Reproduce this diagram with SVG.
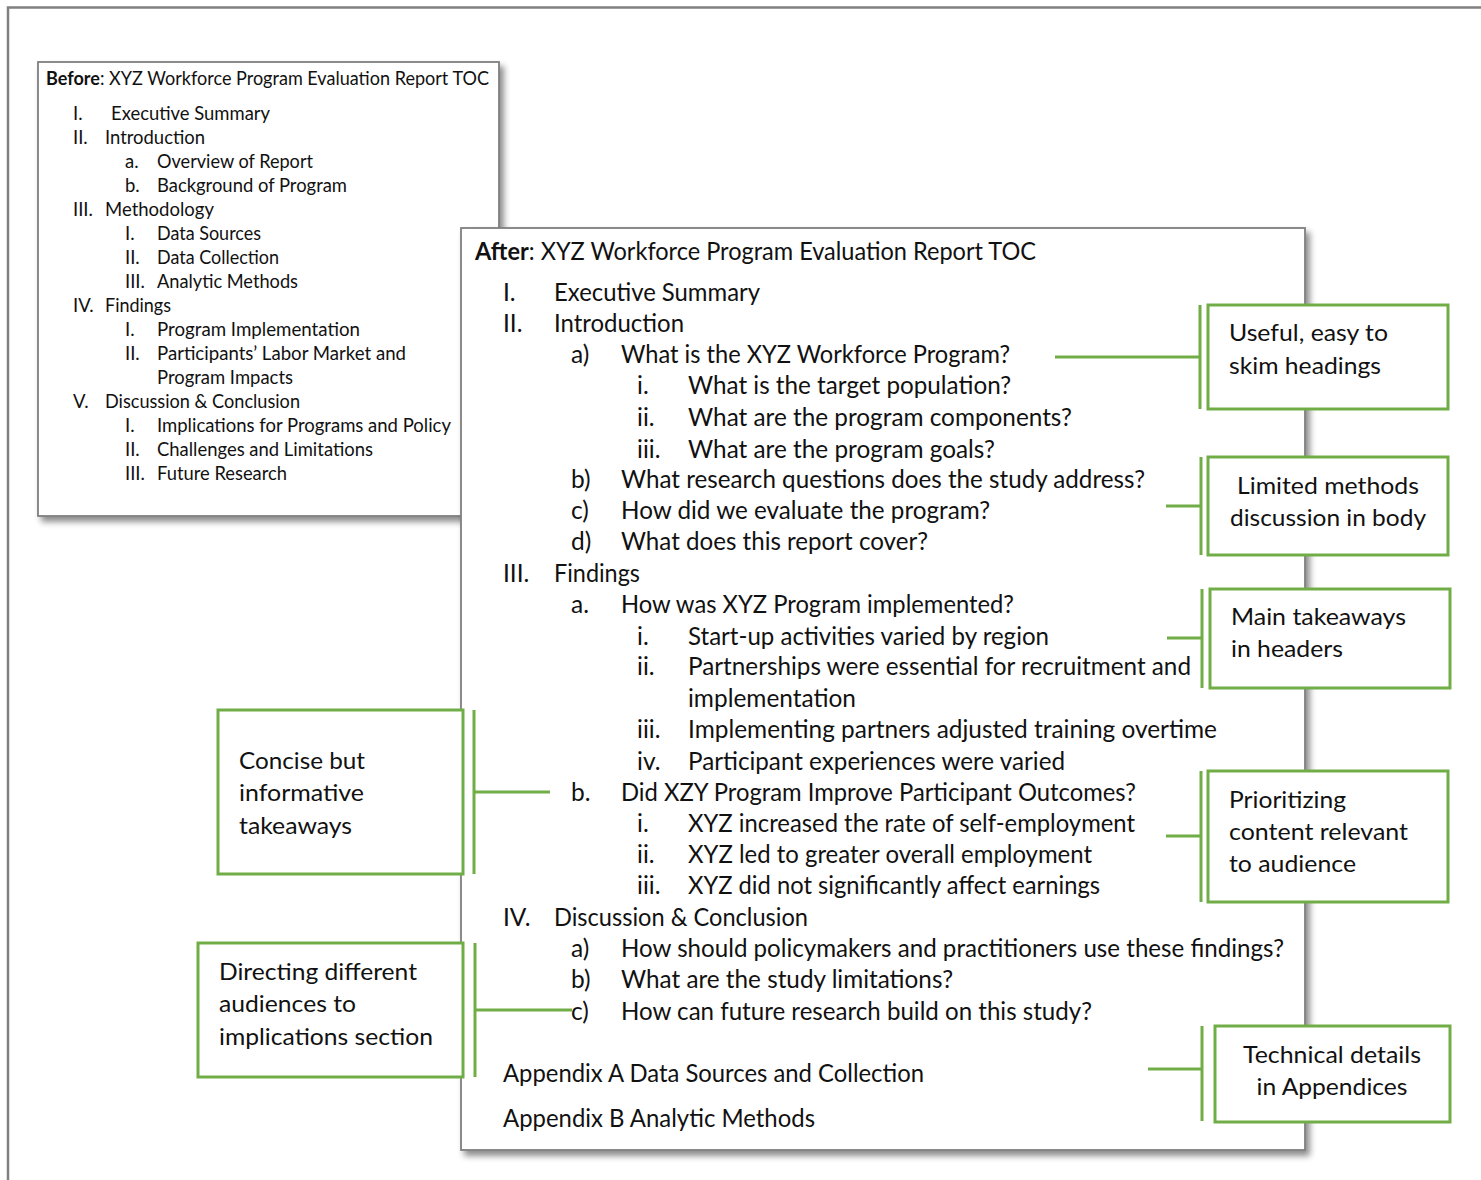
<svg xmlns="http://www.w3.org/2000/svg" width="1481" height="1180" viewBox="0 0 1481 1180">
<defs>
<filter id="sh" x="-5%" y="-5%" width="115%" height="115%">
<feDropShadow dx="4" dy="5" stdDeviation="3" flood-color="#000" flood-opacity="0.45"/>
</filter>
<style>
text{font-family:Lato,"Open Sans","Liberation Sans",sans-serif;fill:#111}
.b{font-size:18.5px}
.a{font-size:24.5px}
.c{font-size:24px}
.doc{fill:#fff;stroke:#7f7f7f;stroke-width:1.8}
.call{fill:#fff;stroke:#70AD47;stroke-width:3}
.con{stroke:#70AD47;stroke-width:3;fill:none}
.frame{stroke:#808080;stroke-width:2.5;fill:none}
</style>
</defs>
<rect width="1481" height="1180" fill="#fff"/>
<path class="frame" d="M8 1180 V7.5 H1481"/>

<g id="before">
<rect class="doc" x="38" y="62" width="461" height="454" filter="url(#sh)"/>
<g transform="translate(0,1)">
<text class="b" x="46" y="84" textLength="443" lengthAdjust="spacingAndGlyphs"><tspan font-weight="bold">Before</tspan>: XYZ Workforce Program Evaluation Report TOC</text>
<text class="b" x="73" y="119">I.</text><text class="b" x="111" y="119" textLength="159" lengthAdjust="spacingAndGlyphs">Executive Summary</text>
<text class="b" x="73" y="143">II.</text><text class="b" x="105" y="143" textLength="100" lengthAdjust="spacingAndGlyphs">Introduction</text>
<text class="b" x="125" y="167">a.</text><text class="b" x="157" y="167" textLength="156" lengthAdjust="spacingAndGlyphs">Overview of Report</text>
<text class="b" x="125" y="191">b.</text><text class="b" x="157" y="191" textLength="190" lengthAdjust="spacingAndGlyphs">Background of Program</text>
<text class="b" x="73" y="215">III.</text><text class="b" x="105" y="215" textLength="109" lengthAdjust="spacingAndGlyphs">Methodology</text>
<text class="b" x="125" y="239">I.</text><text class="b" x="157" y="239" textLength="104" lengthAdjust="spacingAndGlyphs">Data Sources</text>
<text class="b" x="125" y="263">II.</text><text class="b" x="157" y="263" textLength="122" lengthAdjust="spacingAndGlyphs">Data Collection</text>
<text class="b" x="125" y="287">III.</text><text class="b" x="157" y="287" textLength="141" lengthAdjust="spacingAndGlyphs">Analytic Methods</text>
<text class="b" x="73" y="311">IV.</text><text class="b" x="105" y="311" textLength="66" lengthAdjust="spacingAndGlyphs">Findings</text>
<text class="b" x="125" y="335">I.</text><text class="b" x="157" y="335" textLength="203" lengthAdjust="spacingAndGlyphs">Program Implementation</text>
<text class="b" x="125" y="359">II.</text><text class="b" x="157" y="359" textLength="249" lengthAdjust="spacingAndGlyphs">Participants’ Labor Market and</text>
<text class="b" x="157" y="383" textLength="136" lengthAdjust="spacingAndGlyphs">Program Impacts</text>
<text class="b" x="73" y="407">V.</text><text class="b" x="105" y="407" textLength="195" lengthAdjust="spacingAndGlyphs">Discussion &amp; Conclusion</text>
<text class="b" x="125" y="431">I.</text><text class="b" x="157" y="431" textLength="294" lengthAdjust="spacingAndGlyphs">Implications for Programs and Policy</text>
<text class="b" x="125" y="455">II.</text><text class="b" x="157" y="455" textLength="216" lengthAdjust="spacingAndGlyphs">Challenges and Limitations</text>
<text class="b" x="125" y="479">III.</text><text class="b" x="157" y="479" textLength="130" lengthAdjust="spacingAndGlyphs">Future Research</text>
</g>
</g>

<g id="after">
<rect class="doc" x="461" y="228" width="844" height="922" filter="url(#sh)"/>
<g transform="translate(0,1)">
<text class="a" x="475" y="259" textLength="561" lengthAdjust="spacingAndGlyphs"><tspan font-weight="bold">After</tspan>: XYZ Workforce Program Evaluation Report TOC</text>
<text class="a" x="503" y="300">I.</text><text class="a" x="554" y="300" textLength="206" lengthAdjust="spacingAndGlyphs">Executive Summary</text>
<text class="a" x="503" y="331">II.</text><text class="a" x="554" y="331" textLength="130" lengthAdjust="spacingAndGlyphs">Introduction</text>
<text class="a" x="571" y="362">a)</text><text class="a" x="621" y="362" textLength="389" lengthAdjust="spacingAndGlyphs">What is the XYZ Workforce Program?</text>
<text class="a" x="637" y="393">i.</text><text class="a" x="688" y="393" textLength="323" lengthAdjust="spacingAndGlyphs">What is the target population?</text>
<text class="a" x="637" y="425">ii.</text><text class="a" x="688" y="425" textLength="384" lengthAdjust="spacingAndGlyphs">What are the program components?</text>
<text class="a" x="637" y="457">iii.</text><text class="a" x="688" y="457" textLength="307" lengthAdjust="spacingAndGlyphs">What are the program goals?</text>
<text class="a" x="571" y="487">b)</text><text class="a" x="621" y="487" textLength="524" lengthAdjust="spacingAndGlyphs">What research questions does the study address?</text>
<text class="a" x="571" y="518">c)</text><text class="a" x="621" y="518" textLength="369" lengthAdjust="spacingAndGlyphs">How did we evaluate the program?</text>
<text class="a" x="571" y="549">d)</text><text class="a" x="621" y="549" textLength="307" lengthAdjust="spacingAndGlyphs">What does this report cover?</text>
<text class="a" x="503" y="581">III.</text><text class="a" x="554" y="581" textLength="86" lengthAdjust="spacingAndGlyphs">Findings</text>
<text class="a" x="571" y="612">a.</text><text class="a" x="621" y="612" textLength="393" lengthAdjust="spacingAndGlyphs">How was XYZ Program implemented?</text>
<text class="a" x="637" y="644">i.</text><text class="a" x="688" y="644" textLength="361" lengthAdjust="spacingAndGlyphs">Start-up activities varied by region</text>
<text class="a" x="637" y="674">ii.</text><text class="a" x="688" y="674" textLength="503" lengthAdjust="spacingAndGlyphs">Partnerships were essential for recruitment and</text>
<text class="a" x="688" y="706" textLength="168" lengthAdjust="spacingAndGlyphs">implementation</text>
<text class="a" x="637" y="737">iii.</text><text class="a" x="688" y="737" textLength="529" lengthAdjust="spacingAndGlyphs">Implementing partners adjusted training overtime</text>
<text class="a" x="637" y="769">iv.</text><text class="a" x="688" y="769" textLength="377" lengthAdjust="spacingAndGlyphs">Participant experiences were varied</text>
<text class="a" x="571" y="800">b.</text><text class="a" x="621" y="800" textLength="515" lengthAdjust="spacingAndGlyphs">Did XZY Program Improve Participant Outcomes?</text>
<text class="a" x="637" y="831">i.</text><text class="a" x="688" y="831" textLength="447" lengthAdjust="spacingAndGlyphs">XYZ increased the rate of self-employment</text>
<text class="a" x="637" y="862">ii.</text><text class="a" x="688" y="862" textLength="404" lengthAdjust="spacingAndGlyphs">XYZ led to greater overall employment</text>
<text class="a" x="637" y="893">iii.</text><text class="a" x="688" y="893" textLength="412" lengthAdjust="spacingAndGlyphs">XYZ did not significantly affect earnings</text>
<text class="a" x="503" y="925">IV.</text><text class="a" x="554" y="925" textLength="254" lengthAdjust="spacingAndGlyphs">Discussion &amp; Conclusion</text>
<text class="a" x="571" y="956">a)</text><text class="a" x="621" y="956" textLength="663" lengthAdjust="spacingAndGlyphs">How should policymakers and practitioners use these findings?</text>
<text class="a" x="571" y="987">b)</text><text class="a" x="621" y="987" textLength="332" lengthAdjust="spacingAndGlyphs">What are the study limitations?</text>
<text class="a" x="571" y="1019">c)</text><text class="a" x="621" y="1019" textLength="471" lengthAdjust="spacingAndGlyphs">How can future research build on this study?</text>
<text class="a" x="503" y="1081" textLength="421" lengthAdjust="spacingAndGlyphs">Appendix A Data Sources and Collection</text>
<text class="a" x="503" y="1126" textLength="312" lengthAdjust="spacingAndGlyphs">Appendix B Analytic Methods</text>
</g>
</g>

<g id="connectors">
<path class="con" d="M1200 305 V409 M1055 357 H1200"/>
<path class="con" d="M1201 457 V555 M1166 506 H1201"/>
<path class="con" d="M1202 589 V688 M1167 638 H1202"/>
<path class="con" d="M1201 771 V902 M1166 836 H1201"/>
<path class="con" d="M1202 1026 V1121 M1148 1069 H1202"/>
<path class="con" d="M474 710 V874 M474 792 H550"/>
<path class="con" d="M475 943 V1077 M475 1010 H572"/>
</g>

<g id="callout-headings">
<rect class="call" x="1208" y="305" width="240" height="104"/>
<text class="c" x="1229" y="341" textLength="159" lengthAdjust="spacingAndGlyphs">Useful, easy to</text>
<text class="c" x="1229" y="374" textLength="152" lengthAdjust="spacingAndGlyphs">skim headings</text>
</g>
<g id="callout-methods">
<rect class="call" x="1208" y="457" width="240" height="98"/>
<text class="c" x="1328" y="494" text-anchor="middle" textLength="182" lengthAdjust="spacingAndGlyphs">Limited methods</text>
<text class="c" x="1328" y="526" text-anchor="middle" textLength="196" lengthAdjust="spacingAndGlyphs">discussion in body</text>
</g>
<g id="callout-takeaways">
<rect class="call" x="1210" y="589" width="240" height="99"/>
<text class="c" x="1231" y="625" textLength="175" lengthAdjust="spacingAndGlyphs">Main takeaways</text>
<text class="c" x="1231" y="657" textLength="112" lengthAdjust="spacingAndGlyphs">in headers</text>
</g>
<g id="callout-audience">
<rect class="call" x="1208" y="771" width="240" height="131"/>
<text class="c" x="1229" y="808" textLength="117" lengthAdjust="spacingAndGlyphs">Prioritizing</text>
<text class="c" x="1229" y="840" textLength="179" lengthAdjust="spacingAndGlyphs">content relevant</text>
<text class="c" x="1229" y="872" textLength="127" lengthAdjust="spacingAndGlyphs">to audience</text>
</g>
<g id="callout-appendices">
<rect class="call" x="1215" y="1026" width="235" height="96"/>
<text class="c" x="1332" y="1063" text-anchor="middle" textLength="178" lengthAdjust="spacingAndGlyphs">Technical details</text>
<text class="c" x="1332" y="1095" text-anchor="middle" textLength="151" lengthAdjust="spacingAndGlyphs">in Appendices</text>
</g>
<g id="callout-concise">
<rect class="call" x="218" y="710" width="245" height="164"/>
<text class="c" x="239" y="769" textLength="126" lengthAdjust="spacingAndGlyphs">Concise but</text>
<text class="c" x="239" y="801" textLength="125" lengthAdjust="spacingAndGlyphs">informative</text>
<text class="c" x="239" y="834" textLength="113" lengthAdjust="spacingAndGlyphs">takeaways</text>
</g>
<g id="callout-directing">
<rect class="call" x="198" y="943" width="265" height="134"/>
<text class="c" x="219" y="980" textLength="198" lengthAdjust="spacingAndGlyphs">Directing different</text>
<text class="c" x="219" y="1012" textLength="137" lengthAdjust="spacingAndGlyphs">audiences to</text>
<text class="c" x="219" y="1045" textLength="214" lengthAdjust="spacingAndGlyphs">implications section</text>
</g>
</svg>
